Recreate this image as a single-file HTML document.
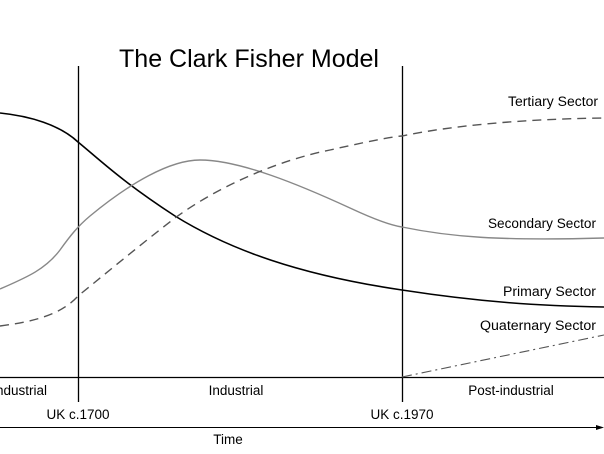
<!DOCTYPE html>
<html><head><style>body{margin:0;background:#fff}svg{display:block}</style></head>
<body>
<svg width="604" height="454" viewBox="0 0 604 454" xmlns="http://www.w3.org/2000/svg" font-family="'Liberation Sans', sans-serif" fill="none">
<text x="119" y="67" font-size="25" fill="#000" textLength="260" lengthAdjust="spacingAndGlyphs">The Clark Fisher Model</text>
<line x1="78.5" y1="66" x2="78.5" y2="402" stroke="#000" stroke-width="1.3"/>
<line x1="402.5" y1="66" x2="402.5" y2="402" stroke="#000" stroke-width="1.3"/>
<line x1="0" y1="377.5" x2="604" y2="377.5" stroke="#000" stroke-width="1.3"/>
<line x1="0" y1="427.5" x2="598" y2="427.5" stroke="#000" stroke-width="1"/>
<polygon points="604,427.5 596,425 596,430" fill="#000"/>
<path d="M0,113 C30,116 60,125 78,142 C100,160 120,180 175,216 C230,250 300,275 402,290 C480,302 540,306 604,307" stroke="#000" stroke-width="1.6"/>
<path d="M0,289 C25,278 45,270 60,250 C70,236 78,226 90,216 C130,183 170,160 200,160 C240,160 300,185 350,208 C380,222 395,226 402,227 C450,237 500,241 604,238" stroke="#888" stroke-width="1.4"/>
<path d="M0,326 C30,322 60,316 78,296 C110,270 140,245 175,218 C220,185 280,160 330,150 C370,141 390,137 402,136 C450,126 520,119 604,118" stroke="#555" stroke-width="1.4" stroke-dasharray="9,6"/>
<path d="M402,377 L604,335" stroke="#555" stroke-width="1.1" stroke-dasharray="10,4,2,4"/>
<g fill="#000" font-size="13.5" text-anchor="end">
<text x="598" y="106" textLength="90" lengthAdjust="spacingAndGlyphs">Tertiary Sector</text>
<text x="596" y="228" textLength="108" lengthAdjust="spacingAndGlyphs">Secondary Sector</text>
<text x="596" y="296" textLength="93" lengthAdjust="spacingAndGlyphs">Primary Sector</text>
<text x="596" y="330" textLength="116" lengthAdjust="spacingAndGlyphs">Quaternary Sector</text>
</g>
<g fill="#000" font-size="13.5" text-anchor="middle">
<text x="20" y="395">industrial</text>
<text x="236" y="395">Industrial</text>
<text x="511" y="395">Post-industrial</text>
<text x="78" y="419">UK c.1700</text>
<text x="402" y="419">UK c.1970</text>
<text x="228" y="444">Time</text>
</g>
</svg>
</body></html>
